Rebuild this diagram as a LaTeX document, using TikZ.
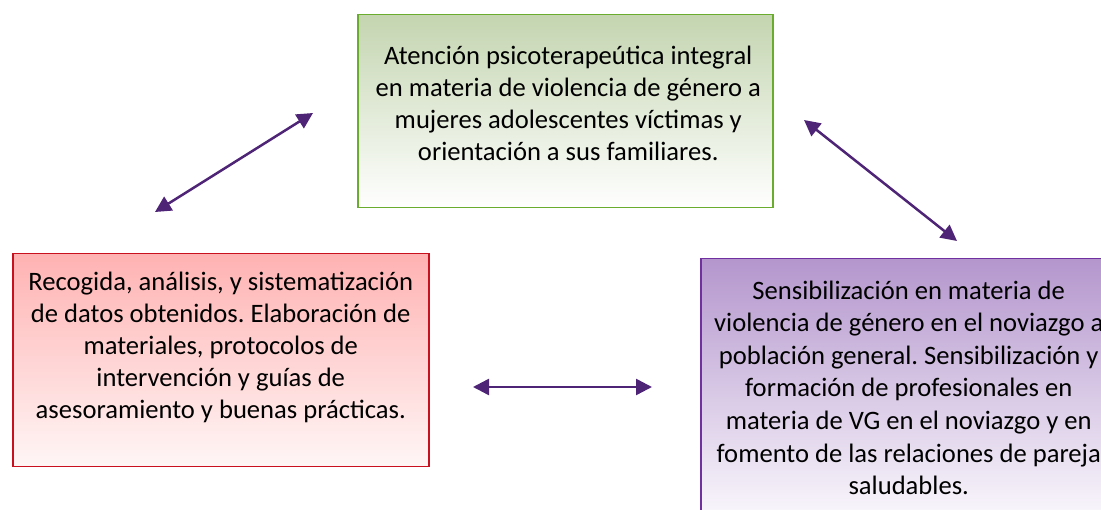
\documentclass[tikz,border=0pt]{standalone}
\usepackage{fontspec}
\setmainfont{Carlito}
\frenchspacing
\usetikzlibrary{arrows.meta,calc}
\definecolor{arrowpurple}{RGB}{78,36,118}
\definecolor{greenline}{RGB}{106,172,46}
\definecolor{greentop}{RGB}{196,213,176}
\definecolor{redline}{RGB}{200,16,30}
\definecolor{redtop}{RGB}{255,178,178}
\definecolor{redbottom}{RGB}{255,246,246}
\definecolor{purpleline}{RGB}{112,48,160}
\definecolor{purpletop}{RGB}{180,150,205}
\definecolor{purplebottom}{RGB}{251,249,253}
\begin{document}
\begin{tikzpicture}[x=1pt,y=-1pt,
  box/.style={draw, line width=1.5pt, anchor=north west, inner sep=0pt},
  txt/.style={align=center, inner sep=0pt, font=\fontsize{26.6}{32}\selectfont},
  both/.style={{Triangle[length=16pt,width=16pt]}-{Triangle[length=16pt,width=16pt]},
    line width=2.5pt, arrowpurple}]
\clip (0,0) rectangle (1101,510);
%%% The three boxes
\node[box, greenline, top color=greentop, bottom color=white,
  minimum width=415pt, minimum height=193pt] (at) at (357,14) {};
\node[txt] (atT) at ($(at.center)+(3,-8)$)
{Atención psicoterapeútica integral\\en materia de violencia de género a\\mujeres adolescentes víctimas y\\orientación a sus familiares.};
%
\node[box, redline, top color=redtop, bottom color=redbottom,
  minimum width=416pt, minimum height=213pt] (rec) at (12,253) {};
\node[txt] (recT) at ($(rec.center)+(0,-13)$)
{Recogida, análisis, y sistematización\\de datos obtenidos. Elaboración de\\materiales, protocolos de\\intervención y guías de\\asesoramiento y buenas prácticas.};
%
\node[box, purpleline, top color=purpletop, bottom color=purplebottom,
  minimum width=404pt, minimum height=264pt] (sens) at (700,258) {};
\node[txt, font=\fontsize{26.6}{32.6}\selectfont] (sensT) at ($(sens.center)+(6,-3)$)
{Sensibilización en materia de\\violencia de género en el noviazgo a\\población general. Sensibilización y\\formación de profesionales en\\materia de VG en el noviazgo y en\\fomento de las relaciones de pareja\\saludables.};
%Ends of the arrows
\coordinate (a1) at (155,212);
\coordinate (a2) at (313,113);
\coordinate (b1) at (804,120);
\coordinate (b2) at (957,241);
\coordinate (c1) at (473,387);
\coordinate (c2) at (652,387);
%Arrows between the boxes
\draw[both] (a1) -- (a2);
\draw[both] (b1) -- (b2);
\draw[both] (c1) -- (c2);
\end{tikzpicture}
\end{document}
